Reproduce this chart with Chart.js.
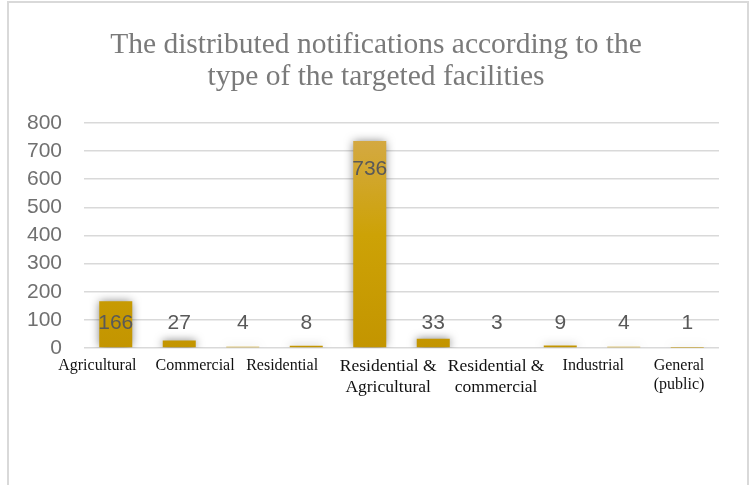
<!DOCTYPE html>
<html>
<head>
<meta charset="utf-8">
<script src="https://cdn.jsdelivr.net/npm/chart.js@4.4.0/dist/chart.umd.min.js"></script>
<style>
  html, body { margin: 0; padding: 0; background: #fff; overflow: hidden; }
  #wrap { position: relative; width: 752px; height: 485px; }
  #frame { position: absolute; left: 7px; top: 1px; width: 742px; height: 520px; border: 2px solid #d9d9d9; box-sizing: border-box; }
  canvas { position: absolute; left: 0; top: 0; }
</style>
</head>
<body>
<div id="wrap">
  <div id="frame"></div>
  <canvas id="c" width="752" height="485"></canvas>
</div>
<script>
const titleLines = ["The distributed notifications according to the", "type of the targeted facilities"];
// Category names as printed under the axis (7 names shown beneath 10 bars)
const categoryNames = [
  "Agricultural",
  "Commercial",
  "Residential",
  ["Residential &", "Agricultural"],
  ["Residential &", "commercial"],
  "Industrial",
  ["General", "(public)"]
];
// One value per bar slot
const values = [166, 27, 4, 8, 736, 33, 3, 9, 4, 1];
const yTicks = [0, 100, 200, 300, 400, 500, 600, 700, 800];

const SERIF = '"Liberation Serif", "Times New Roman", serif';
const SANS = '"Liberation Sans", Arial, sans-serif';

const valueLabelPlugin = {
  id: 'valueLabels',
  afterDatasetsDraw(chart) {
    const ctx = chart.ctx;
    const meta = chart.getDatasetMeta(0);
    const zeroY = chart.scales.y.getPixelForValue(0);
    ctx.save();
    ctx.font = '21px ' + SANS;
    ctx.fillStyle = '#595959';
    ctx.textAlign = 'center';
    ctx.textBaseline = 'middle';
    meta.data.forEach((bar, i) => {
      const y = Math.min(bar.y + 28, zeroY - 25);
      ctx.fillText(String(values[i]), bar.x, y);
    });
    ctx.restore();
  }
};

const shadowPlugin = {
  id: 'barShadow',
  beforeDatasetDraw(chart) {
    const ctx = chart.ctx;
    ctx.save();
    ctx.shadowColor = 'rgba(0,0,0,0.5)';
    ctx.shadowBlur = 9;
    ctx.shadowOffsetX = 0;
    ctx.shadowOffsetY = 0;
  },
  afterDatasetDraw(chart) {
    chart.ctx.restore();
  }
};

function barGradient(context) {
  const chart = context.chart;
  const area = chart.chartArea;
  if (!area) return '#c99c00';
  const g = chart.ctx.createLinearGradient(0, area.top, 0, area.bottom);
  g.addColorStop(0, '#d5aa4d');
  g.addColorStop(0.5, '#cda206');
  g.addColorStop(1, '#c39500');
  return g;
}

// Name label anchor positions along the bar slots (slot units, 0..10)
const nameTickAt = [0.21, 1.75, 3.12, 4.79, 6.49, 8.02, 9.37];

new Chart(document.getElementById('c'), {
  type: 'bar',
  data: {
    labels: values.map((v, i) => 'slot' + i),
    datasets: [{
      data: values,
      backgroundColor: barGradient,
      borderWidth: 0,
      categoryPercentage: 1.0,
      barPercentage: 0.52,
      xAxisID: 'x',
      yAxisID: 'y'
    }]
  },
  options: {
    responsive: false,
    animation: false,
    devicePixelRatio: 1,
    layout: { padding: 0 },
    plugins: {
      legend: { display: false },
      tooltip: { enabled: false },
      title: {
        display: true,
        text: titleLines,
        color: '#7a7a7a',
        font: { family: SERIF, size: 29.5, weight: 'normal', lineHeight: 1.1 },
        padding: { top: 29, bottom: 29 }
      }
    },
    scales: {
      x: {
        display: true,
        grid: { display: false, drawTicks: false },
        border: { display: false },
        ticks: { display: false },
        afterFit(scale) { scale.height = 0; }
      },
      names: {
        type: 'linear',
        position: 'bottom',
        offset: false,
        min: 0,
        max: 10,
        afterBuildTicks(scale) { scale.ticks = nameTickAt.map(v => ({ value: v })); },
        grid: { display: false, drawTicks: false, offset: false },
        border: { display: false },
        ticks: {
          autoSkip: false,
          maxRotation: 0,
          minRotation: 0,
          padding: 8,
          color: '#111111',
          callback: (value, index) => categoryNames[index],
          font: (ctx) => {
            const i = ctx.index;
            if (i === 3 || i === 4) return { family: SERIF, size: 17.5, lineHeight: 1.2 };
            return { family: SERIF, size: 16, lineHeight: 1.2 };
          }
        },
        afterFit(scale) { scale.height = 137; }
      },
      y: {
        min: 0,
        max: 800,
        afterBuildTicks(scale) { scale.ticks = yTicks.map(v => ({ value: v })); },
        grid: { color: '#d9d9d9', lineWidth: 1.5, drawTicks: false },
        border: { display: false },
        ticks: {
          autoSkip: false,
          padding: 22,
          color: '#707070',
          font: { family: SANS, size: 21 }
        },
        afterFit(scale) { scale.width = 84; }
      },
      rightGap: {
        type: 'linear',
        position: 'right',
        display: true,
        grid: { display: false, drawTicks: false },
        border: { display: false },
        ticks: { display: false },
        afterFit(scale) { scale.width = 33; }
      }
    }
  },
  plugins: [shadowPlugin, valueLabelPlugin]
});
</script>
</body>
</html>
